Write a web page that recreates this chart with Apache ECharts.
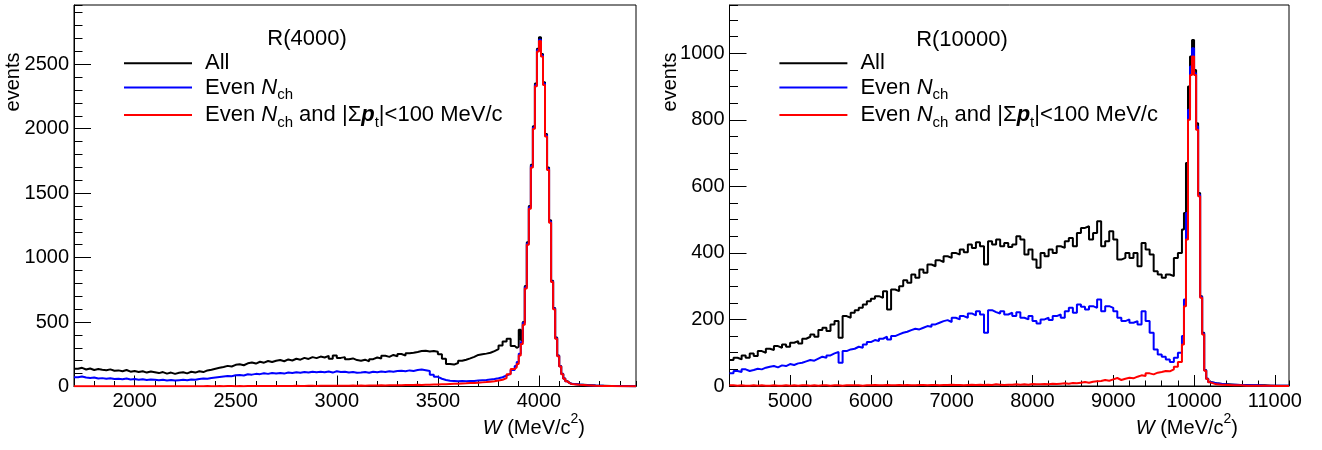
<!DOCTYPE html>
<html><head><meta charset="utf-8">
<script src="https://cdn.jsdelivr.net/npm/echarts@6/dist/echarts.min.js"></script>
<style>html,body{margin:0;padding:0;background:#fff}#c{width:1322px;height:450px}</style>
</head><body><div id="c"></div>
<script>
// ---------------- DATA ----------------
const seriesNames = ['All', 'Even Nch', 'Even Nch and |Σpt|<100 MeV/c'];
const panelTitles = ['R(4000)', 'R(10000)'];

// Left panel: bin segments (start of segment, bin width in MeV/c2)
const leftSegStart = [1700, 3880, 4160];
const leftSegWidth = [20, 10, 40];
const leftAll = [
  [138,145,132,140,128,135,130,126,133,122,
   125,118,128,115,120,112,118,108,116,110,
   104,112,100,108,98,106,110,102,114,108,
   118,112,125,130,138,145,152,160,155,168,
   172,165,180,186,178,192,185,198,190,200,
   205,196,210,202,215,208,222,214,228,220,
   232,225,238,215,240,222,228,212,218,205,
   200,208,195,212,225,218,238,230,245,235,
   252,240,258,262,268,275,278,272,276,270,
   250,215,175,170,182,200,208,218,230,245,
   250,255,262,275,290,318,350,370,315],
  [300,310,440,360,500,780,1120,1400,1720,2020,2350,2620,2710,2580,2360,1960,1700,1290,820,610,380,240,160,98,63,42,30,22],
  [16,11,8,6,4,3,3,2]
];
const leftEven = [
  [72,78,70,66,70,62,65,60,64,58,
   60,56,62,55,58,52,56,50,54,52,
   48,52,47,50,46,49,52,48,55,52,
   58,62,60,66,70,74,78,82,80,88,
   90,86,95,92,98,96,102,98,104,100,
   105,100,108,104,110,106,112,108,115,110,
   114,110,116,108,118,112,115,108,112,106,
   108,112,106,114,110,116,112,118,115,120,
   122,118,125,120,128,132,126,120,92,75,
   60,50,44,42,40,42,40,43,42,46,
   48,50,54,58,64,72,85,100,128],
  [160,190,255,345,495,770,1110,1390,1710,2010,2340,2610,2690,2570,2350,1950,1690,1280,815,605,375,238,158,97,62,41,29,21],
  [15,10,7,5,4,3,2,2]
];
const leftEvenPt = [
  [1,2,1,1,2,1,2,1,1,2,
   1,2,1,2,1,1,2,2,1,2,
   2,1,2,2,1,2,2,1,2,2,
   2,2,3,2,2,3,2,3,3,2,
   3,2,3,3,4,3,3,4,3,4,
   4,3,4,4,5,4,4,5,5,4,
   5,5,6,5,6,6,5,6,7,6,
   7,6,8,7,8,9,8,9,10,9,
   10,11,12,11,13,12,14,13,15,16,
   17,18,20,21,22,24,25,27,28,30,
   32,34,37,40,46,52,65,95,135],
  [150,175,240,330,480,760,1100,1380,1700,2000,2330,2600,2680,2560,2340,1940,1680,1270,810,600,370,235,155,95,60,40,28,20],
  [14,9,6,4,3,2,2,1]
];

// Right panel
const rightSegStart = [4250, 9850, 10200];
const rightSegWidth = [50, 25, 75];
const rightAll = [
  [78,85,80,92,85,98,90,105,100,112,
   108,120,115,125,118,130,135,128,142,148,
   155,148,168,175,165,185,195,145,210,205,
   220,228,235,245,255,262,270,265,285,230,
   290,285,300,318,310,335,325,350,340,365,
   360,378,372,390,385,400,395,410,402,425,
   415,432,420,365,435,425,440,420,430,418,
   425,450,440,395,410,380,355,400,390,410,
   400,420,415,435,445,420,460,475,480,440,
   460,495,420,435,465,440,380,385,400,385,
   400,360,430,410,395,345,335,325,335,330,
   385,400],
  [470,520,670,900,990,1040,950,790,580,270,160,48,22,12],
  [8,6,5,4,3,3,2,2,2,1,1,1,1]
];
const rightEven = [
  [38,45,42,50,45,48,52,50,55,58,
   60,56,62,60,66,63,68,70,74,78,
   76,82,88,85,92,98,102,70,105,110,
   112,118,115,125,132,138,135,142,148,140,
   150,155,160,163,168,172,170,175,180,178,
   185,190,195,198,192,205,200,210,205,218,
   212,225,215,160,228,222,218,225,215,220,
   210,222,205,200,210,195,188,200,205,198,
   210,215,205,225,235,220,245,238,230,240,
   235,260,225,240,235,225,205,195,200,190,
   195,185,225,195,160,110,95,88,80,72,
   85,100],
  [150,260,520,830,960,1015,940,780,575,268,158,47,22,12],
  [8,6,4,4,3,2,2,2,1,1,1,1,1]
];
const rightEvenPt = [
  [2,1,2,1,1,2,1,2,1,1,
   2,1,1,2,1,2,1,2,2,1,
   2,1,2,2,1,2,2,1,2,2,
   2,2,1,2,2,3,2,2,3,2,
   2,3,2,3,2,2,3,3,2,3,
   3,2,3,3,4,3,3,2,3,4,
   3,4,3,4,3,5,4,3,4,4,
   5,4,5,4,6,5,5,6,5,7,
   6,7,8,7,9,8,10,12,10,13,
   14,15,18,16,20,24,18,22,25,23,
   28,32,30,38,35,40,42,45,44,50,
   58,72],
  [125,240,440,800,935,990,935,770,570,265,155,46,21,11],
  [5,4,3,2,2,1,1,1,1,1,0,0,0]
];

// Axis ranges and tick spacing
const leftX = {min: 1700, max: 4480, major: 500, minor: 100};
const leftY = {min: 0, max: 2960, major: 500, minor: 100};
const rightX = {min: 4250, max: 11175, major: 1000, minor: 200};
const rightY = {min: 0, max: 1145, major: 200, minor: 50};

// ---------------- BUILD ----------------
function hist(starts, widths, segs) {
  const pts = [];
  let x = starts[0];
  segs.forEach((vals, s) => {
    x = starts[s];
    vals.forEach(v => { pts.push([x, v]); x += widths[s]; });
  });
  pts.push([x, pts[pts.length - 1][1]]);
  return pts;
}

const F = "'Liberation Sans', Arial, Helvetica, sans-serif";
const colors = ['#000000', '#0000ff', '#ff0000'];
const plain = v => String(Math.round(v));

function xAxes(r, grid) {
  return [
    {type: 'value', gridIndex: grid, min: r.min, max: r.max, minInterval: r.major, maxInterval: r.major,
     position: 'bottom',
     axisLine: {show: true, onZero: false, lineStyle: {color: '#000', width: 1}},
     axisTick: {show: true, inside: true, length: 11, lineStyle: {color: '#000', width: 1}},
     axisLabel: {show: true, color: '#000', fontSize: 20, fontFamily: F, margin: 5, formatter: plain, showMinLabel: false, showMaxLabel: false},
     splitLine: {show: false}},
    {type: 'value', gridIndex: grid, min: r.min, max: r.max, minInterval: r.minor, maxInterval: r.minor,
     position: 'bottom',
     axisLine: {show: false, onZero: false},
     axisTick: {show: true, inside: true, length: 5.5, lineStyle: {color: '#000', width: 1}},
     axisLabel: {show: false}, splitLine: {show: false}}
  ];
}
function yAxes(r, grid) {
  return [
    {type: 'value', gridIndex: grid, min: r.min, max: r.max, minInterval: r.major, maxInterval: r.major,
     position: 'left',
     axisLine: {show: true, onZero: false, lineStyle: {color: '#000', width: 1}},
     axisTick: {show: true, inside: true, length: 17, lineStyle: {color: '#000', width: 1}},
     axisLabel: {show: true, color: '#000', fontSize: 20, fontFamily: F, margin: 5, formatter: plain, showMaxLabel: false},
     splitLine: {show: false}},
    {type: 'value', gridIndex: grid, min: r.min, max: r.max, minInterval: r.minor, maxInterval: r.minor,
     position: 'left',
     axisLine: {show: false, onZero: false},
     axisTick: {show: true, inside: true, length: 8.5, lineStyle: {color: '#000', width: 1}},
     axisLabel: {show: false}, splitLine: {show: false}}
  ];
}

const panelData = [
  {segStart: leftSegStart, segWidth: leftSegWidth, sets: [leftAll, leftEven, leftEvenPt]},
  {segStart: rightSegStart, segWidth: rightSegWidth, sets: [rightAll, rightEven, rightEvenPt]}
];
const series = [];
panelData.forEach((p, pi) => {
  p.sets.forEach((segs, si) => {
    series.push({
      type: 'line', name: seriesNames[si], xAxisIndex: pi * 2, yAxisIndex: pi * 2,
      data: hist(p.segStart, p.segWidth, segs), step: 'end',
      symbol: 'none', showSymbol: false, silent: true, clip: true, z: 3 + si,
      lineStyle: {color: colors[si], width: 2}, itemStyle: {color: colors[si]}
    });
  });
});

const legendRich = {
  i: {fontStyle: 'italic', fontSize: 22, fontFamily: F, lineHeight: 24, color: '#000'},
  sub: {fontSize: 15, fontFamily: F, lineHeight: 10, verticalAlign: 'top', padding: [12, 0, 0, 0], color: '#000'},
  bi: {fontStyle: 'italic', fontWeight: 'bold', fontSize: 22, fontFamily: F, lineHeight: 24, color: '#000'}
};
function legendFmt(name) {
  if (name === seriesNames[0]) return 'All';
  if (name === seriesNames[1]) return 'Even {i|N}{sub|ch}';
  return 'Even {i|N}{sub|ch} and |Σ{bi|p}{sub|t}|<100 MeV/c';
}
function legendAt(left) {
  return {
    orient: 'vertical', left: left, top: 51.3, padding: 0, itemGap: 0.3,
    itemWidth: 68, itemHeight: 2, icon: 'rect', selectedMode: false,
    itemStyle: {borderWidth: 0},
    data: seriesNames, formatter: legendFmt,
    textStyle: {fontSize: 22, fontFamily: F, color: '#000', lineHeight: 24, padding: [0, 0, 0, 8], rich: legendRich}
  };
}

const axisNameRich = {
  i: {fontStyle: 'italic', fontSize: 20, fontFamily: F, lineHeight: 32, fill: '#000'},
  n: {fontSize: 20, fontFamily: F, lineHeight: 32, fill: '#000'},
  sup: {fontSize: 14, fontFamily: F, lineHeight: 10, verticalAlign: 'top', fill: '#000'}
};
function textEl(text, x, y, size, align, rot, rich) {
  const st = {text: text, x: 0, y: 0, fill: '#000', fontSize: size, fontFamily: F,
              textAlign: align, textVerticalAlign: 'middle', align: align, verticalAlign: 'middle'};
  if (rich) { st.rich = rich; st.lineHeight = 32; }
  return {type: 'text', x: x, y: y, rotation: rot || 0, silent: true, z: 10, style: st};
}

const option = {
  animation: false,
  backgroundColor: '#ffffff',
  grid: [
    {left: 74, top: 5, width: 562, height: 381.5, show: true, borderColor: '#000', borderWidth: 1, backgroundColor: 'transparent', containLabel: false, outerBoundsMode: 'none'},
    {left: 729.5, top: 5, width: 559.5, height: 381, show: true, borderColor: '#000', borderWidth: 1, backgroundColor: 'transparent', containLabel: false, outerBoundsMode: 'none'}
  ],
  xAxis: [].concat(xAxes(leftX, 0), xAxes(rightX, 1)),
  yAxis: [].concat(yAxes(leftY, 0), yAxes(rightY, 1)),
  legend: [legendAt(124), legendAt(779.4)],
  graphic: [
    textEl(panelTitles[0], 307, 38.5, 22, 'center'),
    textEl(panelTitles[1], 962, 39.5, 22, 'center'),
    textEl('events', 13, 82, 20, 'center', Math.PI / 2),
    textEl('events', 670, 82, 20, 'center', Math.PI / 2),
    textEl('{i|W} {n|(MeV/c}{sup|2}{n|)}', 585, 428, 20, 'right', 0, axisNameRich),
    textEl('{i|W} {n|(MeV/c}{sup|2}{n|)}', 1238, 428, 20, 'right', 0, axisNameRich)
  ],
  series: series
};

const chart = echarts.init(document.getElementById('c'), null, {renderer: 'canvas', width: 1322, height: 450});
chart.setOption(option);
</script>
</body></html>
